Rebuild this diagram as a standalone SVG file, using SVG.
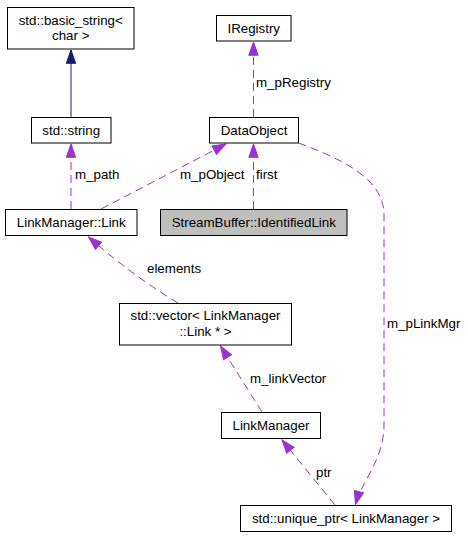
<svg xmlns="http://www.w3.org/2000/svg" width="468" height="539" viewBox="0 0 468 539">
<style>
text{font-family:"Liberation Sans",Arial,Helvetica,sans-serif;font-size:13.33px;fill:#000}
.n{text-anchor:middle}
.box{fill:#fff;stroke:#000;stroke-width:1}
.cur{fill:#bfbfbf;stroke:#000;stroke-width:1}
.e{fill:none;stroke:#9a32cd;stroke-width:1;stroke-dasharray:8,5;marker-end:url(#ap)}
.inh{fill:none;stroke:#191970;stroke-width:1;marker-end:url(#an)}
</style>
<defs>
<marker id="ap" markerUnits="userSpaceOnUse" viewBox="0 0 14 10" markerWidth="14" markerHeight="10" refX="13.3" refY="4.7" orient="auto" overflow="visible">
<path d="M0,0 L13.3,4.7 L0,9.4 Z" fill="#9a32cd" stroke="#9a32cd" stroke-width="1"/>
</marker>
<marker id="an" markerUnits="userSpaceOnUse" viewBox="0 0 14 10" markerWidth="14" markerHeight="10" refX="13.3" refY="4.7" orient="auto" overflow="visible">
<path d="M0,0 L13.3,4.7 L0,9.4 Z" fill="#191970" stroke="#191970" stroke-width="1"/>
</marker>
</defs>
<g id="edges">
<path class="inh" d="M71,117 L71,50"/>
<path class="e" d="M71,209 L71,144"/>
<text x="75" y="179">m_path</text>
<path class="e" d="M101,209 L226,144"/>
<text x="180" y="179">m_pObject</text>
<path class="e" d="M253.5,117 L253.5,42"/>
<text x="256" y="86.5">m_pRegistry</text>
<path class="e" d="M253.5,209 L253.5,144"/>
<text x="256" y="179">first</text>
<path class="e" d="M298.5,143 C345,160 384,180 384,215 L384,425 C384,460 362,480 355.5,504.5"/>
<text x="387" y="328.3">m_pLinkMgr</text>
<path class="e" d="M178,303 Q133,276 88.5,237"/>
<text x="147" y="272.7">elements</text>
<path class="e" d="M262,412 L220.5,346"/>
<text x="250" y="383.3">m_linkVector</text>
<path class="e" d="M335,505 L282,440"/>
<text x="316" y="476.7">ptr</text>
</g>
<g id="node-basic_string">
<rect class="box" x="7.5" y="7.5" width="126.5" height="41.5"/>
<text class="n" x="70.75" y="24.7">std::basic_string&lt;</text>
<text class="n" x="70.75" y="39.7">char &gt;</text>
</g>
<g id="node-std_string">
<rect class="box" x="31.5" y="117.5" width="79.5" height="25.5"/>
<text class="n" x="71.25" y="134.5">std::string</text>
</g>
<g id="node-IRegistry">
<rect class="box" x="216.5" y="15.5" width="74.5" height="25.5"/>
<text class="n" x="253.75" y="32.5">IRegistry</text>
</g>
<g id="node-DataObject">
<rect class="box" x="209.5" y="117.5" width="89" height="25.5"/>
<text class="n" x="254" y="134.5">DataObject</text>
</g>
<g id="node-Link">
<rect class="box" x="5.5" y="209.5" width="131.5" height="26"/>
<text class="n" x="71.25" y="227">LinkManager::Link</text>
</g>
<g id="node-IdentifiedLink">
<rect class="cur" x="160.5" y="209.5" width="186.5" height="26"/>
<text class="n" x="253.75" y="227">StreamBuffer::IdentifiedLink</text>
</g>
<g id="node-vector">
<rect class="box" x="119.5" y="303.5" width="172" height="41.5"/>
<text class="n" x="205.5" y="320.3">std::vector&lt; LinkManager</text>
<text class="n" x="205.5" y="335.7">::Link * &gt;</text>
</g>
<g id="node-LinkManager">
<rect class="box" x="221.5" y="412.5" width="99" height="26"/>
<text class="n" x="271" y="430">LinkManager</text>
</g>
<g id="node-unique_ptr">
<rect class="box" x="240.5" y="505.5" width="211" height="26"/>
<text class="n" x="346" y="523">std::unique_ptr&lt; LinkManager &gt;</text>
</g>
</svg>
